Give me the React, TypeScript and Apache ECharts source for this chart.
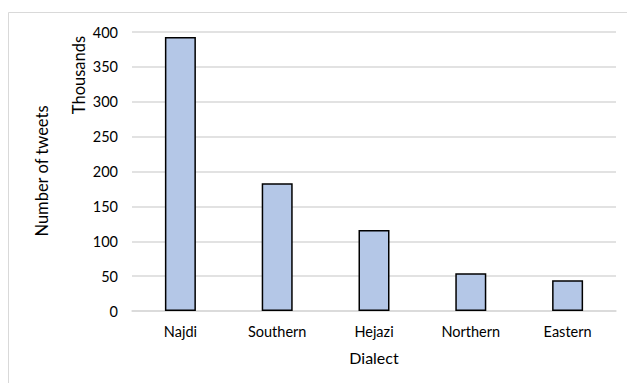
import React, { useEffect, useRef } from "react";
import * as echarts from "echarts";

const categories = ["Najdi", "Southern", "Hejazi", "Northern", "Eastern"];
const tweetsThousands = [393, 183, 116, 54, 44];
const yTicks = { min: 0, max: 400, interval: 50 };
const xTitle = "Dialect";
const yTitle = "Number of tweets";
const unitLabel = "Thousands";

export default function App() {
  const ref = useRef<HTMLDivElement>(null);
  useEffect(() => {
    if (!ref.current) return;
    const chart = echarts.init(ref.current, null, { renderer: "svg" });
    const font = "Lato, 'Noto Sans', sans-serif";
    chart.setOption({
      animation: false,
      backgroundColor: "#ffffff",
      grid: { left: 132, right: 11, top: 32, bottom: 72, containLabel: false },
      xAxis: {
        type: "category",
        data: categories,
        name: xTitle,
        nameLocation: "middle",
        nameGap: 38,
        nameTextStyle: { fontFamily: font, fontSize: 16, color: "#000" },
        axisLine: { show: true, lineStyle: { color: "#d9d9d9", width: 1.5 } },
        axisTick: { show: false },
        axisLabel: { fontFamily: font, fontSize: 14.5, color: "#000", margin: 13 },
      },
      yAxis: {
        type: "value",
        min: yTicks.min,
        max: yTicks.max,
        interval: yTicks.interval,
        axisLine: { show: false },
        axisTick: { show: false },
        axisLabel: { fontFamily: font, fontSize: 14.5, color: "#000", margin: 14 },
        splitLine: { lineStyle: { color: "#d9d9d9", width: 1.5 } },
      },
      graphic: [
        {
          type: "rect",
          shape: { x: 8.5, y: 12.5, width: 700, height: 500 },
          style: { fill: "none", stroke: "#d9d9d9", lineWidth: 1 },
          silent: true,
          z: -1,
        },
        {
          type: "text",
          x: 42,
          y: 171,
          rotation: Math.PI / 2,
          style: {
            text: yTitle,
            font: `16.5px ${font}`,
            fill: "#000",
            align: "center",
            verticalAlign: "middle",
          },
        },
        {
          type: "text",
          x: 79,
          y: 75,
          rotation: Math.PI / 2,
          style: {
            text: unitLabel,
            font: `16.5px ${font}`,
            fill: "#000",
            align: "center",
            verticalAlign: "middle",
          },
        },
      ],
      series: [
        {
          type: "bar",
          data: tweetsThousands,
          barWidth: 31,
          itemStyle: { color: "#b4c7e7", borderColor: "#000", borderWidth: 1.5 },
        },
      ],
    });
    return () => chart.dispose();
  }, []);
  return (
    <div
      ref={ref}
      style={{ position: "absolute", left: 0, top: 0, width: 627, height: 383 }}
    />
  );
}
